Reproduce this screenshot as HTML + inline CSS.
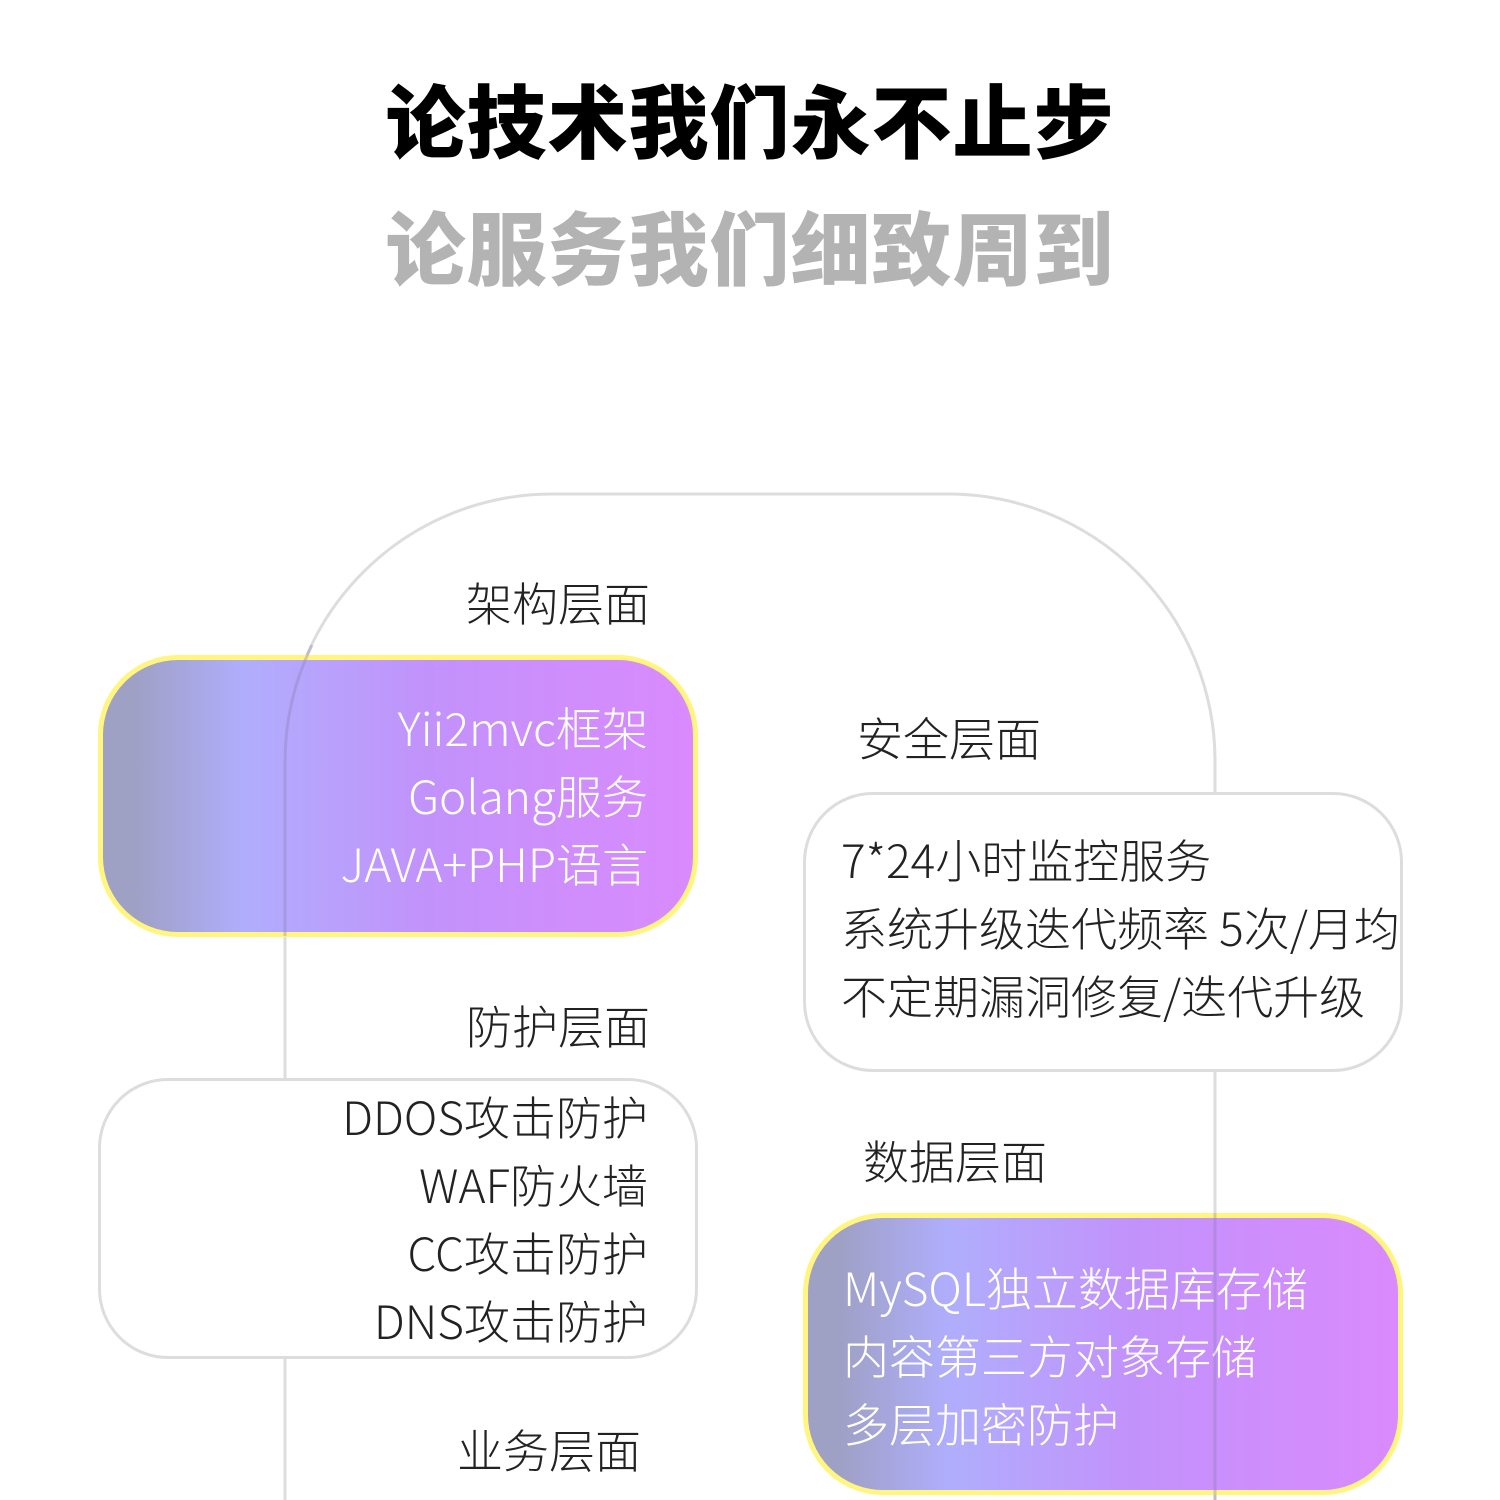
<!DOCTYPE html>
<html><head><meta charset="utf-8"><style>
body{margin:0;width:1500px;height:1500px;background:#fff;position:relative;overflow:hidden;font-family:"Liberation Sans","Noto Sans CJK SC",sans-serif}
.t{position:absolute;left:0;width:1500px;text-align:center;font-weight:900;font-size:80px;line-height:1;letter-spacing:1px}
.lab,.ln{font-family:"Noto Sans CJK SC",sans-serif}
.lab{position:absolute;font-size:46px;line-height:1;color:#222;font-weight:300;white-space:nowrap}
.box{position:absolute;box-sizing:border-box;width:600px;height:282px;border-radius:80px}
.g{background:linear-gradient(90deg,#9ea0c4 5%,#b0aefc 24%,#c292fb 55%,#da8afd 100%);border:5px solid #fff57f;color:#fff}
.w{background:#fff;border:3px solid #ddd;color:#222}
.ln{position:absolute;font-size:46px;line-height:68px;font-weight:300;white-space:nowrap}
</style></head><body>
<div class="t" style="top:85px;color:#000">论技术我们永不止步</div>
<div class="t" style="top:212px;color:#b3b3b3">论服务我们细致周到</div>
<svg style="position:absolute;left:0;top:0" width="1500" height="1500"><path d="M285 1500 V760 A267 267 0 0 1 552 494 H948 A267 267 0 0 1 1215 760 V1500" fill="none" stroke="#ddd" stroke-width="3"/></svg>
<div class="lab" style="right:850px;top:579px">架构层面</div>
<div class="lab" style="left:857px;top:714px">安全层面</div>
<div class="lab" style="right:850px;top:1002px">防护层面</div>
<div class="lab" style="left:863px;top:1137px">数据层面</div>
<div class="lab" style="right:859px;top:1426px">业务层面</div>
<div class="box g" style="left:98px;top:655px"><div class="ln" style="right:45px;top:33px;text-align:right">Yii2mvc框架<br>Golang服务<br>JAVA+PHP语言</div></div>
<div class="box w" style="left:803px;top:792px;height:280px;border-radius:70px"><div class="ln" style="left:35px;top:30px">7*24小时监控服务<br>系统升级迭代频率 5次/月均<br>不定期漏洞修复/迭代升级</div></div>
<div class="box w" style="left:98px;top:1078px;height:281px;border-radius:70px"><div class="ln" style="right:47px;top:1px;text-align:right">DDOS攻击防护<br>WAF防火墙<br>CC攻击防护<br>DNS攻击防护</div></div>
<div class="box g" style="left:803px;top:1213px"><div class="ln" style="left:35px;top:35px">MySQL独立数据库存储<br>内容第三方对象存储<br>多层加密防护</div></div>
<svg style="position:absolute;left:0;top:0;opacity:.35" width="1500" height="1500"><path d="M285 936 V760 A267 267 0 0 1 312 645" fill="none" stroke="#8a7fb0" stroke-width="3"/><path d="M1215 1213 V1500" fill="none" stroke="#8a7fb0" stroke-width="3"/></svg>
</body></html>
